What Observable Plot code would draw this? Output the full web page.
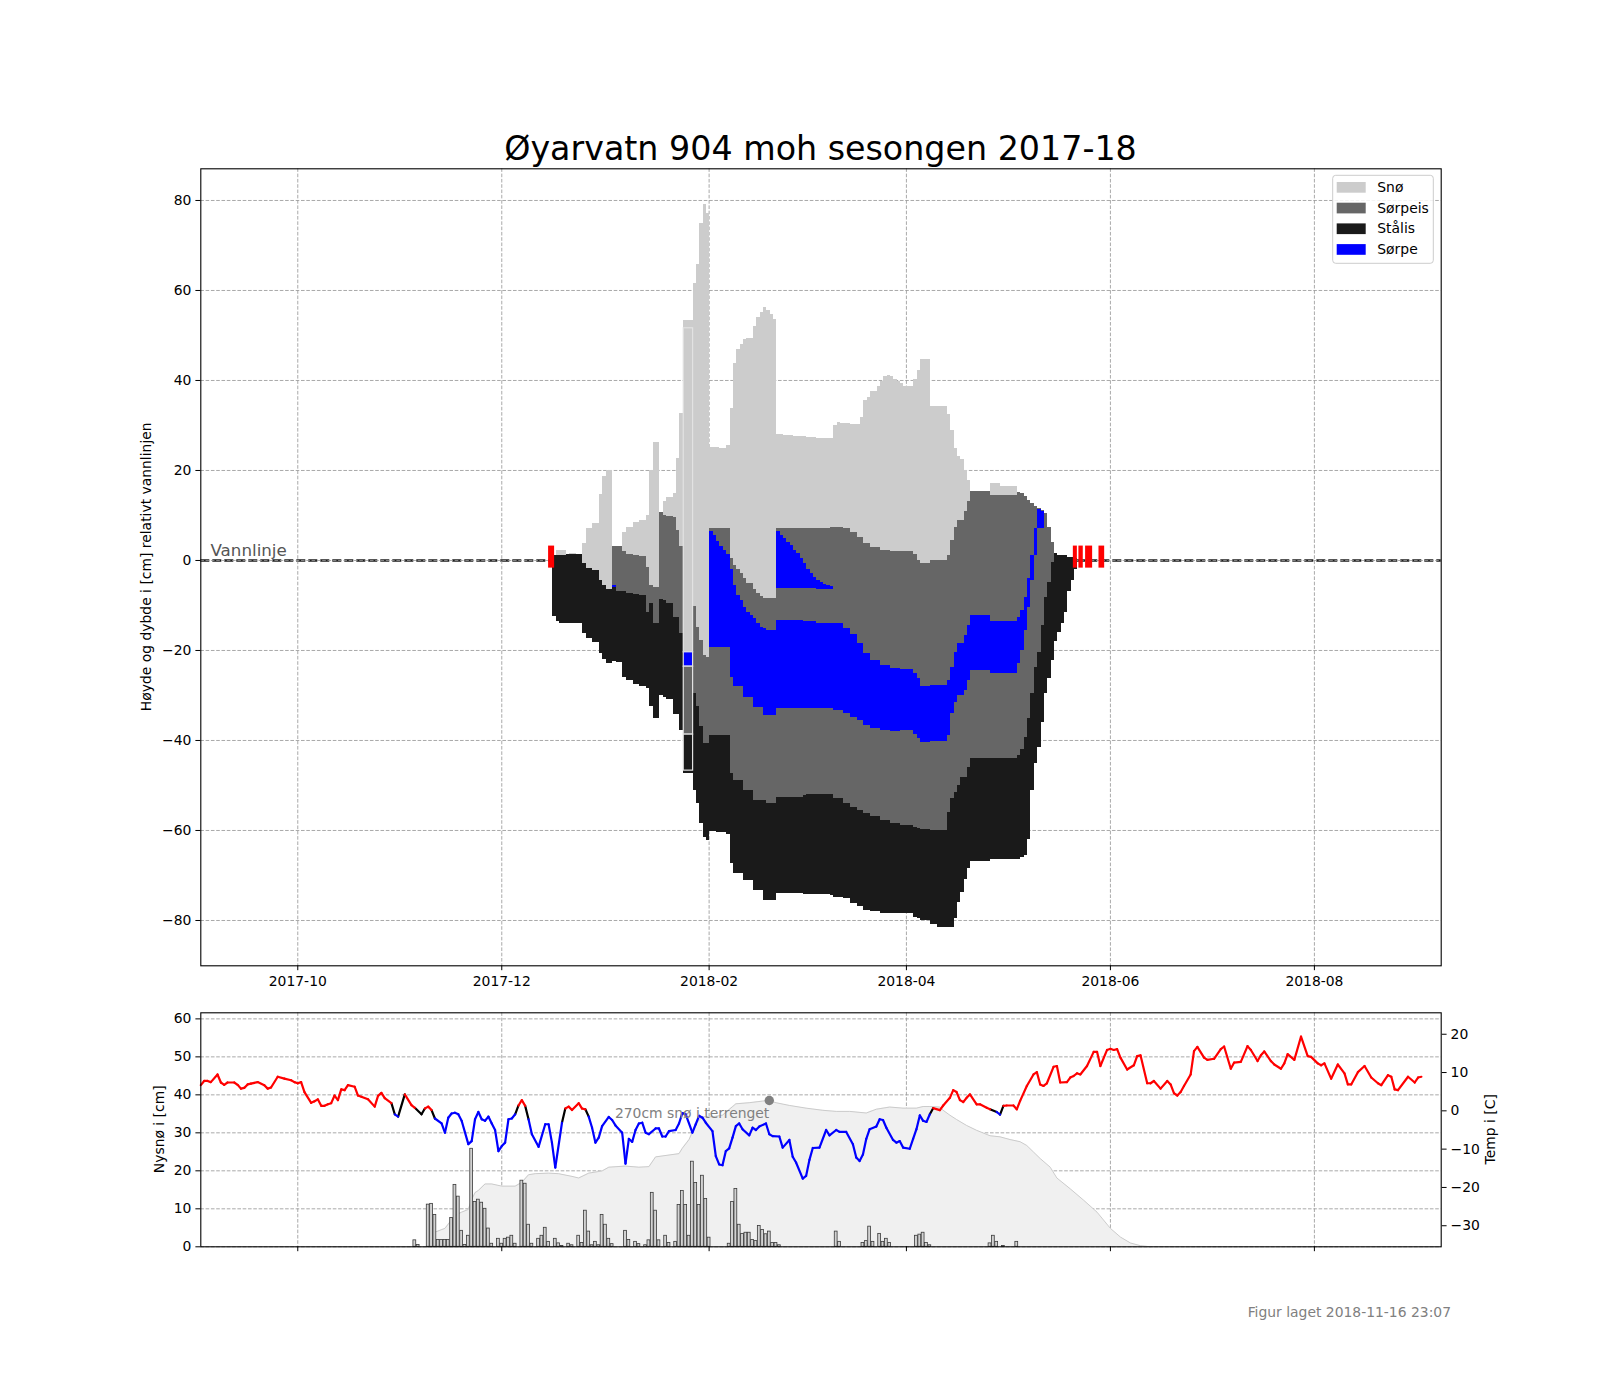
<!DOCTYPE html>
<html><head><meta charset="utf-8">
<script src="https://cdn.jsdelivr.net/npm/d3@7"></script>
<script src="https://cdn.jsdelivr.net/npm/@observablehq/plot@0.6"></script>
<style>
body{margin:0;background:#fff;}
#fig{position:relative;width:1600px;height:1400px;background:#fff;font-family:"DejaVu Sans",sans-serif;}
#fig svg{position:absolute;left:0;}
</style></head><body><div id="fig"></div>
<script>
const n = null;
// ---------- texts ----------
const titleText = "Øyarvatn 904 moh sesongen 2017-18";
const yLabelMain = "Høyde og dybde i [cm] relativt vannlinjen";
const yLabelSnow = "Nysnø i [cm]";
const yLabelTemp = "Temp i [C]";
const footerText = "Figur laget 2018-11-16 23:07";
const waterText = "Vannlinje";
// ---------- ticks ----------
const xTicks = ["2017-10-01","2017-12-01","2018-02-01","2018-04-01","2018-06-01","2018-08-01"];
const yTicksMain = [-80,-60,-40,-20,0,20,40,60,80];
const yTicksSnow = [0,10,20,30,40,50,60];
const yTicksTemp = [-30,-20,-10,0,10,20];
// ---------- legend ----------
const layerNames = ["Snø","Sørpeis","Stålis","Sørpe"];
const layerColors = ["#cccccc","#666666","#1a1a1a","#0000ff"];

// ---------- snow on ice (top of snow, step series; null = no snow) ----------
const snowDates = ["2017-12-16","2017-12-17","2017-12-20","2017-12-21","2017-12-23","2017-12-25","2017-12-26","2017-12-28","2017-12-30","2017-12-31",
"2018-01-01","2018-01-03","2018-01-06","2018-01-07","2018-01-09","2018-01-11","2018-01-13","2018-01-14","2018-01-15","2018-01-17",
"2018-01-18","2018-01-19","2018-01-21","2018-01-22","2018-01-23","2018-01-24","2018-01-27","2018-01-28","2018-01-29","2018-01-30",
"2018-01-31","2018-02-01","2018-02-04","2018-02-06","2018-02-07","2018-02-08","2018-02-09","2018-02-10","2018-02-11","2018-02-12",
"2018-02-14","2018-02-15","2018-02-16","2018-02-17","2018-02-18","2018-02-19","2018-02-20","2018-02-21","2018-02-23","2018-02-26",
"2018-03-02","2018-03-05","2018-03-10","2018-03-11","2018-03-12","2018-03-15","2018-03-18","2018-03-19","2018-03-20","2018-03-21",
"2018-03-23","2018-03-24","2018-03-25","2018-03-26","2018-03-27","2018-03-28","2018-03-29","2018-03-30","2018-03-31","2018-04-01",
"2018-04-03","2018-04-04","2018-04-05","2018-04-06","2018-04-08","2018-04-13","2018-04-14","2018-04-15","2018-04-16","2018-04-17",
"2018-04-18","2018-04-19","2018-04-20","2018-04-26","2018-04-29","2018-05-04"];
const snowTop = [n,2.2,n,1.5,n,3.7,7.0,8.3,14.7,18.7,
20.0,n,6.3,7.4,8.5,8.8,10.0,20.0,26.2,n,
13.0,13.9,14.8,22.7,32.7,53.3,61.5,65.8,74.8,79.1,
77.0,25.2,24.8,25.5,33.7,43.8,46.9,48.1,49.1,49.3,
52.1,53.9,55.2,56.3,55.6,54.7,53.5,28.0,27.8,27.6,
27.3,27.2,30.0,30.7,30.5,30.2,31.7,35.6,36.3,37.5,
38.6,39.7,40.8,41.0,40.8,40.3,39.8,39.3,38.7,38.6,
40.2,42.2,44.7,44.6,34.3,32.5,28.8,24.9,23.1,22.4,
20.0,17.8,n,17.0,16.4,n];

// ---------- ice layers (step series; boundaries from top down; null = layer absent) ----------
const iceDates = ["2017-12-16","2017-12-17","2017-12-18","2017-12-20","2017-12-21","2017-12-23","2017-12-25","2017-12-26","2017-12-28","2017-12-30","2017-12-31",
"2018-01-01","2018-01-03","2018-01-04","2018-01-06","2018-01-07","2018-01-09","2018-01-11","2018-01-13","2018-01-14","2018-01-15",
"2018-01-17","2018-01-18","2018-01-19","2018-01-21","2018-01-22","2018-01-23","2018-01-24","2018-01-27","2018-01-28","2018-01-29",
"2018-01-30","2018-01-31","2018-02-01","2018-02-02","2018-02-03","2018-02-04","2018-02-05","2018-02-06","2018-02-07","2018-02-08",
"2018-02-09","2018-02-10","2018-02-11","2018-02-12","2018-02-13","2018-02-14","2018-02-15","2018-02-16","2018-02-17","2018-02-18",
"2018-02-21","2018-02-22","2018-02-23","2018-02-24","2018-02-25","2018-02-26","2018-02-27","2018-02-28","2018-03-01","2018-03-02",
"2018-03-03","2018-03-04","2018-03-05","2018-03-06","2018-03-07","2018-03-08","2018-03-09","2018-03-10","2018-03-13","2018-03-15",
"2018-03-17","2018-03-19","2018-03-21","2018-03-24","2018-03-27","2018-03-30","2018-04-03","2018-04-04","2018-04-05","2018-04-08",
"2018-04-10","2018-04-13","2018-04-14","2018-04-15","2018-04-16","2018-04-17","2018-04-18","2018-04-19","2018-04-20","2018-04-26",
"2018-05-04","2018-05-05","2018-05-06","2018-05-07","2018-05-08","2018-05-09","2018-05-10","2018-05-11","2018-05-12","2018-05-13",
"2018-05-14","2018-05-15","2018-05-16","2018-05-17","2018-05-18","2018-05-19","2018-05-20","2018-05-21","2018-05-22"];
const iceTop = [1.1,1.0,1.0,1.3,1.3,1.3,-0.6,-1.7,-2.2,-4.4,-5.6,
-6.5,3.0,3.0,1.9,1.3,1.1,0.9,-1.5,-5.5,-6.0,
10.6,10.0,9.8,9.6,6.7,3.1,-20.4,-10.2,-14.8,-17.8,
-21.1,-21.5,7.0,7.0,7.0,7.0,7.0,7.0,0.4,-1.1,
-1.9,-3.0,-4.1,-5.2,-5.2,-6.5,-7.4,-8.1,-8.5,-8.5,
7.0,7.0,7.0,7.0,7.0,7.1,7.1,7.1,7.2,7.2,
7.2,7.2,7.2,7.2,7.2,7.2,7.3,7.4,7.2,6.2,
5.0,3.7,2.8,2.2,2.0,2.0,1.3,0.0,-0.7,-0.1,
-0.1,1.1,4.4,7.4,8.9,8.9,10.9,13.0,15.3,14.4,
15.2,14.8,14.3,13.3,12.6,12.1,11.5,11.1,10.4,7.4,
4.1,1.6,1.2,1.0,1.0,0.7,0.7,0.5,n];
// bottom of upper sørpeis
const greyA = [n,n,n,n,n,n,n,n,n,n,n,
n,-5.6,n,n,n,n,n,n,n,n,
n,n,n,n,n,n,n,n,n,n,
n,n,6.5,5.6,4.3,3.2,2.2,1.3,-1.9,-5.6,
-7.8,-9.0,-10.4,-11.5,-12.2,-13.0,-14.0,-14.8,-15.2,-15.6,
6.5,5.6,4.8,4.1,3.3,2.2,1.5,0.4,-0.7,-1.9,
-3.0,-3.7,-4.4,-4.8,-5.3,-5.6,-5.8,n,n,n,
n,n,n,n,n,n,n,n,n,n,
n,n,n,n,n,n,n,n,n,n,
n,n,n,n,n,n,n,n,n,n,
n,n,n,n,n,n,n,n,n];
// bottom of upper sørpe
const slushA = [n,n,n,n,n,n,n,n,n,n,n,
n,-6.1,n,n,n,n,n,n,n,n,
n,n,n,n,n,n,-23.6,n,n,n,
n,n,-19.3,-19.3,-19.3,-19.3,-19.3,-19.3,-25.9,-28.1,
-28.1,-28.1,-30.4,-30.4,-30.4,-32.6,-32.6,-32.6,-34.4,-34.4,
-6.3,-6.3,-6.3,-6.3,-6.3,-6.3,-6.3,-6.3,-6.3,-6.3,
-6.3,-6.3,-6.4,-6.4,-6.4,-6.4,-6.4,n,n,n,
n,n,n,n,n,n,n,n,n,n,
n,n,n,n,n,n,n,n,n,n,
n,n,n,n,n,n,n,n,n,n,
n,n,n,n,n,n,n,n,n];
// bottom of middle sørpeis
const greyB = [n,n,n,n,n,n,n,n,n,n,n,
n,n,n,n,n,n,n,n,n,n,
n,n,n,n,n,n,-38.7,n,n,n,
n,n,-38.9,-38.9,-38.9,-39.0,-39.0,-39.0,-47.4,-48.9,
-48.9,-48.9,-51.1,-51.1,-51.1,-53.3,-53.3,-53.3,-53.3,-54.1,
-13.3,-13.3,-13.3,-13.3,-13.3,-13.3,-13.3,-13.3,-13.6,-13.6,
-13.6,-13.6,-13.9,-13.9,-13.9,-13.9,-14.1,-14.1,-15.2,-16.5,
-18.5,-20.7,-22.2,-23.4,-24.0,-24.3,-25.2,-26.3,-28.0,-27.8,
-27.8,-26.7,-23.7,-20.4,-18.5,-18.5,-16.7,-14.5,-12.2,-13.5,
-12.6,-11.1,-8.2,-4.1,1.1,7.0,11.3,10.9,n,n,
n,n,n,n,n,n,n,n,n];
// bottom of main sørpe band
const slushB = [n,n,n,n,n,n,n,n,n,n,n,
n,n,n,n,n,n,n,n,n,n,
n,n,n,n,n,n,n,n,n,n,
n,n,n,n,n,n,n,n,n,n,
n,n,n,n,n,n,n,n,n,n,
-32.9,-32.9,-32.9,-32.9,-32.9,-32.9,-32.9,-32.9,-32.9,-32.9,
-32.9,-32.9,-33.0,-33.0,-33.0,-33.0,-33.0,-33.3,-34.1,-34.8,
-35.6,-36.7,-37.4,-37.8,-38.0,-37.8,-38.7,-39.6,-40.4,-40.2,
-40.2,-38.9,-34.1,-31.5,-30.0,-30.0,-28.9,-26.7,-24.5,-25.2,
-23.0,-20.0,-15.6,-10.4,-4.5,1.1,7.0,7.0,n,n,
n,n,n,n,n,n,n,n,n];
// top of stålis (bottom of lower sørpeis)
const greyC = [n,n,n,n,n,n,n,n,n,n,n,
n,n,-7.0,-7.0,-7.4,-7.6,-7.8,-11.5,-9.6,-14.1,
-8.7,-9.0,-9.5,-12.6,-12.6,-16.2,n,-29.5,-32.4,-37.0,
-40.6,-40.7,n,n,n,n,n,n,n,n,
n,n,n,n,n,n,n,n,n,n,
-52.6,-52.6,-52.6,-52.6,-52.6,-52.6,-52.6,-52.6,-52.3,-52.0,
-52.0,-52.0,-52.0,-52.0,-52.0,-52.0,-52.0,-53.0,-54.1,-54.8,
-55.6,-56.3,-57.0,-57.8,-58.5,-58.9,-59.3,-59.6,-59.8,-60.0,
-60.0,-56.0,-53.0,-51.5,-50.0,-48.2,-48.2,-45.9,-44.1,-44.1,
-43.3,-41.9,-39.4,-35.2,-29.6,-23.7,-20.4,-14.4,-8.2,-4.8,
-0.4,n,n,n,n,n,n,n,n];
// bottom of ice
const iceBottom = [-12.4,-13.5,-14.1,-13.9,-14.0,-14.1,-16.2,-17.4,-18.2,-20.6,-22.1,
-23.0,-22.4,-22.6,-25.9,-26.7,-27.6,-28.1,-28.5,-32.4,-35.2,
-30.0,-30.4,-31.0,-34.2,-34.2,-37.8,-47.3,-51.1,-54.1,-58.5,
-61.5,-62.2,-60.3,-60.3,-60.5,-60.5,-60.5,-60.8,-67.4,-69.6,
-69.6,-69.6,-71.1,-71.1,-71.1,-73.3,-73.3,-73.3,-75.6,-75.6,
-74.1,-74.1,-74.1,-74.1,-74.1,-74.1,-74.1,-74.1,-74.3,-74.3,
-74.3,-74.3,-74.3,-74.3,-74.3,-74.3,-74.5,-74.8,-75.2,-76.3,
-77.0,-77.8,-78.1,-78.5,-78.5,-78.5,-79.3,-79.6,-80.0,-81.0,
-81.5,-81.5,-81.5,-79.6,-76.0,-73.8,-71.0,-68.5,-67.0,-66.5,
-66.5,-66.0,-65.5,-62.0,-51.1,-45.2,-41.5,-35.9,-29.6,-26.3,
-22.2,-18.1,-15.9,-14.1,-11.5,-7.0,-4.4,-1.9,n];
const iceLayerTypes = ["Sørpeis","Sørpe","Sørpeis","Sørpe","Sørpeis","Stålis"];

// ---------- single measured profile (drawn with outline) ----------
const profileStart = "2018-01-24T10:00:00Z";
const profileEnd = "2018-01-27T05:00:00Z";
const profileBounds = [51.6,-20.4,-23.6,-38.7,-46.7];
const profileTypes = ["Snø","Sørpe","Sørpeis","Stålis"];

// ---------- red markers (no ice) ----------
const redDates = ["2017-12-15T00:00:00Z","2018-05-20T22:00:00Z","2018-05-22T14:00:00Z","2018-05-24T14:00:00Z","2018-05-28T14:00:00Z"];
const redDays = [1.8,1.2,1.3,2.1,1.7];
const redSpan = [-1.7,3.2];

// ---------- new snow (cm) ----------
const newSnowDates = ["2017-11-05","2017-11-06","2017-11-09","2017-11-10","2017-11-11","2017-11-12","2017-11-13","2017-11-14","2017-11-15","2017-11-16",
"2017-11-17","2017-11-18","2017-11-19","2017-11-20","2017-11-21","2017-11-22","2017-11-23","2017-11-24","2017-11-25","2017-11-26",
"2017-11-27","2017-11-28","2017-11-30","2017-12-01","2017-12-02","2017-12-03","2017-12-04","2017-12-05","2017-12-07","2017-12-08",
"2017-12-09","2017-12-10","2017-12-12","2017-12-13","2017-12-14","2017-12-15","2017-12-17","2017-12-18","2017-12-19","2017-12-21",
"2017-12-22","2017-12-24","2017-12-25","2017-12-26","2017-12-27","2017-12-28","2017-12-29","2017-12-30","2017-12-31","2018-01-01",
"2018-01-02","2018-01-03","2018-01-07","2018-01-08","2018-01-10","2018-01-11","2018-01-13","2018-01-14","2018-01-15","2018-01-16",
"2018-01-17","2018-01-19","2018-01-20","2018-01-22","2018-01-23","2018-01-24","2018-01-25","2018-01-26","2018-01-27","2018-01-28",
"2018-01-29","2018-01-30","2018-01-31","2018-02-01","2018-02-07","2018-02-08","2018-02-09","2018-02-10","2018-02-11","2018-02-12",
"2018-02-13","2018-02-14","2018-02-15","2018-02-16","2018-02-17","2018-02-18","2018-02-19","2018-02-20","2018-02-21","2018-02-22",
"2018-03-11","2018-03-12","2018-03-19","2018-03-20","2018-03-21","2018-03-22","2018-03-24","2018-03-25","2018-03-26","2018-03-27",
"2018-04-04","2018-04-05","2018-04-06","2018-04-07","2018-04-08","2018-04-26","2018-04-27","2018-04-28","2018-04-30","2018-05-04"];
const newSnowCm = [1.7,0.5,11.1,11.3,8.4,1.8,1.8,1.8,1.8,7.6,
16.3,13.2,4.2,0.5,2.9,25.8,11.8,12.4,11.6,10.0,
4.8,0.8,2.1,0.8,2.1,2.4,2.9,0.8,17.4,16.6,
5.8,0.8,2.1,2.9,5.0,1.3,2.1,0.9,0.2,0.8,
0.4,2.9,1.0,9.5,4.0,0.4,1.3,0.4,8.4,5.8,
2.1,0.7,4.2,1.8,1.3,0.7,0.4,1.7,14.2,9.5,
1.7,2.9,1.0,1.3,11.0,14.7,11.0,2.9,22.4,16.8,
11.0,18.7,12.6,2.4,0.8,11.8,15.2,5.8,3.4,3.7,
3.7,1.8,1.5,5.5,4.4,3.3,4.0,1.0,1.0,0.4,
4.0,1.3,1.0,1.5,5.3,1.3,3.4,1.3,2.1,1.0,
2.9,3.2,3.7,1.0,0.4,0.9,2.9,1.3,0.2,1.3];

// ---------- snow depth in terrain (cm) ----------
const terrainDates = ["2017-11-10","2017-11-11","2017-11-14","2017-11-17","2017-11-19","2017-11-21","2017-11-22","2017-11-23","2017-11-24","2017-11-26",
"2017-11-28","2017-12-01","2017-12-05","2017-12-07","2017-12-09","2017-12-11","2017-12-15","2017-12-18","2017-12-22","2017-12-24",
"2017-12-27","2017-12-31","2018-01-02","2018-01-07","2018-01-11","2018-01-14","2018-01-16","2018-01-23","2018-01-24","2018-01-26",
"2018-01-27","2018-01-28","2018-01-30","2018-02-02","2018-02-05","2018-02-09","2018-02-13","2018-02-17","2018-02-19","2018-02-21",
"2018-02-25","2018-03-02","2018-03-07","2018-03-11","2018-03-15","2018-03-20","2018-03-23","2018-03-27","2018-03-31","2018-04-04",
"2018-04-06","2018-04-08","2018-04-11","2018-04-12","2018-04-14","2018-04-16","2018-04-19","2018-04-22","2018-04-26","2018-04-29",
"2018-05-02","2018-05-05","2018-05-07","2018-05-09","2018-05-11","2018-05-14","2018-05-16","2018-05-20","2018-05-24","2018-05-28",
"2018-06-01","2018-06-04","2018-06-07","2018-06-10","2018-06-13"];
const terrainCm = [0,27,34,58,64,69,87,100,104,116,
116,112,112,119,133,135,136,135,130,127,
136,140,147,149,147,148,166,172,182,198,
212,227,240,240,243,264,266,269,270,266,
261,256,252,250,250,247,254,258,256,256,
259,259,258,252,243,235,224,215,205,203,
198,194,187,175,163,147,127,107,86,64,
34,18,7,2,0];
const terrainScale = 38.5 / 270; // plotted on the new-snow axis

// ---------- air temperature (°C) ----------
const tempDates = [
"2017-09-02","2017-09-03","2017-09-04","2017-09-05","2017-09-07","2017-09-08","2017-09-09","2017-09-10","2017-09-12","2017-09-13","2017-09-14","2017-09-15","2017-09-16","2017-09-17","2017-09-19","2017-09-21","2017-09-22","2017-09-23","2017-09-25","2017-09-27","2017-09-29","2017-09-30",
"2017-10-01","2017-10-02","2017-10-03","2017-10-05","2017-10-06","2017-10-07","2017-10-08","2017-10-09","2017-10-10","2017-10-11","2017-10-12","2017-10-13","2017-10-14","2017-10-15","2017-10-16","2017-10-18","2017-10-19","2017-10-20","2017-10-22","2017-10-24","2017-10-25","2017-10-26","2017-10-27","2017-10-29","2017-10-30","2017-10-31",
"2017-11-02","2017-11-04","2017-11-05","2017-11-07","2017-11-08","2017-11-09","2017-11-10","2017-11-11","2017-11-13","2017-11-14","2017-11-15","2017-11-16","2017-11-17","2017-11-18","2017-11-19","2017-11-21","2017-11-22","2017-11-23","2017-11-24","2017-11-25","2017-11-26","2017-11-27","2017-11-28","2017-11-29","2017-11-30",
"2017-12-01","2017-12-02","2017-12-03","2017-12-04","2017-12-05","2017-12-06","2017-12-07","2017-12-08","2017-12-09","2017-12-10","2017-12-12","2017-12-14","2017-12-15","2017-12-16","2017-12-17","2017-12-19","2017-12-20","2017-12-21","2017-12-22","2017-12-24","2017-12-25","2017-12-26","2017-12-27","2017-12-28","2017-12-29","2017-12-30","2017-12-31",
"2018-01-02","2018-01-03","2018-01-04","2018-01-06","2018-01-07","2018-01-08","2018-01-09","2018-01-10","2018-01-11","2018-01-12","2018-01-13","2018-01-14","2018-01-16","2018-01-17","2018-01-18","2018-01-19","2018-01-20","2018-01-22","2018-01-23","2018-01-24","2018-01-25","2018-01-27","2018-01-28","2018-01-29","2018-01-30","2018-01-31",
"2018-02-02","2018-02-03","2018-02-04","2018-02-05","2018-02-06","2018-02-07","2018-02-08","2018-02-09","2018-02-10","2018-02-11","2018-02-13","2018-02-14","2018-02-15","2018-02-16","2018-02-18","2018-02-19","2018-02-20","2018-02-22","2018-02-23","2018-02-25","2018-02-26","2018-02-27",
"2018-03-01","2018-03-02","2018-03-03","2018-03-04","2018-03-06","2018-03-08","2018-03-09","2018-03-11","2018-03-12","2018-03-14","2018-03-16","2018-03-17","2018-03-18","2018-03-19","2018-03-20","2018-03-21","2018-03-23","2018-03-24","2018-03-25","2018-03-26","2018-03-28","2018-03-29","2018-03-30","2018-03-31",
"2018-04-02","2018-04-03","2018-04-04","2018-04-05","2018-04-06","2018-04-07","2018-04-08","2018-04-09","2018-04-11","2018-04-12","2018-04-14","2018-04-15","2018-04-16","2018-04-17","2018-04-18","2018-04-19","2018-04-20","2018-04-22","2018-04-23","2018-04-25","2018-04-26","2018-04-28","2018-04-29","2018-04-30",
"2018-05-01","2018-05-03","2018-05-04","2018-05-05","2018-05-07","2018-05-09","2018-05-10","2018-05-11","2018-05-12","2018-05-13","2018-05-15","2018-05-16","2018-05-17","2018-05-19","2018-05-20","2018-05-21","2018-05-22","2018-05-23","2018-05-25","2018-05-27","2018-05-28","2018-05-29","2018-05-31",
"2018-06-01","2018-06-02","2018-06-03","2018-06-04","2018-06-06","2018-06-08","2018-06-09","2018-06-10","2018-06-12","2018-06-13","2018-06-14","2018-06-16","2018-06-18","2018-06-19","2018-06-20","2018-06-21","2018-06-22","2018-06-23","2018-06-25","2018-06-26","2018-06-27","2018-06-29","2018-06-30",
"2018-07-02","2018-07-04","2018-07-05","2018-07-07","2018-07-08","2018-07-10","2018-07-12","2018-07-13","2018-07-15","2018-07-16","2018-07-17","2018-07-19","2018-07-20","2018-07-22","2018-07-23","2018-07-24","2018-07-26","2018-07-28","2018-07-30","2018-07-31",
"2018-08-02","2018-08-03","2018-08-04","2018-08-06","2018-08-08","2018-08-10","2018-08-11","2018-08-12","2018-08-14","2018-08-16","2018-08-18","2018-08-20","2018-08-21","2018-08-23","2018-08-24","2018-08-25","2018-08-26","2018-08-29","2018-08-31",
"2018-09-01","2018-09-02"];
const tempValues = [
6.7,7.8,7.8,7.5,9.5,7.4,6.8,7.4,7.4,6.8,5.8,6.0,6.9,7.1,7.5,6.7,5.8,6.1,8.9,8.4,8.0,7.5,
7.2,7.5,4.9,2.1,2.5,3.0,1.3,1.3,1.7,2.0,4.0,2.8,5.6,5.4,6.7,6.3,4.0,3.7,3.0,1.1,3.9,4.7,3.3,2.0,-0.9,-1.5,
4.3,1.5,0.8,-0.9,0.6,1.1,0.2,-2.0,-3.3,-5.7,-1.8,-0.7,-0.5,-0.9,-2.6,-8.7,-7.9,-2.2,-0.3,-2.2,-2.6,-1.5,-3.3,-5.0,-10.5,
-9.2,-8.3,-2.2,-2.0,-0.9,1.4,2.8,1.3,-2.2,-6.1,-9.4,-3.5,-3.5,-8.3,-14.8,-3.1,0.6,1.1,0.2,2.0,0.6,0.4,-1.5,-4.4,-8.3,-7.0,-4.0,
-1.6,-2.4,-3.8,-5.7,-13.8,-7.3,-8.1,-5.0,-3.3,-3.1,-5.7,-6.1,-4.6,-4.6,-6.7,-6.7,-5.3,-5.0,-3.3,-0.6,-0.9,-5.7,-3.5,-1.3,-1.8,-3.1,
-5.3,-11.8,-14.0,-14.2,-10.5,-9.8,-7.0,-4.0,-3.3,-4.8,-6.4,-4.4,-5.0,-4.1,-3.3,-6.1,-6.6,-6.7,-9.6,-7.6,-12.0,-13.5,
-17.7,-17.0,-12.8,-9.7,-9.6,-5.0,-6.4,-5.0,-5.5,-5.5,-8.7,-12.2,-13.1,-11.4,-7.3,-4.8,-4.1,-2.2,-2.4,-4.4,-7.6,-8.3,-7.9,-9.6,
-9.9,-7.3,-4.8,-1.2,-2.6,-2.9,-0.9,0.7,0.2,1.4,3.4,5.4,4.9,2.8,2.3,3.4,4.3,1.7,1.7,0.8,0.4,-0.3,-1.0,1.3,
1.4,1.4,0.4,2.6,6.5,9.5,10.1,6.9,6.5,7.2,11.5,11.7,7.4,7.5,8.7,9.1,9.8,9.5,11.7,15.4,15.4,11.7,15.9,
16.2,15.9,16.1,13.9,10.8,11.9,14.3,14.5,7.2,7.2,7.8,5.8,7.8,6.9,4.6,4.0,4.9,6.5,9.5,15.6,16.7,13.9,13.3,
13.6,16.1,16.8,11.0,12.6,12.8,16.9,15.9,13.0,14.5,15.5,13.0,12.1,11.0,12.4,14.8,13.3,19.4,14.3,14.1,
12.4,11.9,12.4,8.4,12.1,9.8,6.9,6.9,10.1,11.7,8.7,7.2,6.7,9.3,8.9,5.6,5.4,8.9,7.4,
8.7,8.9];

// ================= build =================
const DAY = 864e5;
const parse = s => new Date(s.length === 10 ? s + "T00:00:00Z" : s);
const colorOf = Object.fromEntries(layerNames.map((k, i) => [k, layerColors[i]]));
const fmtNum = v => v < 0 ? "\u2212" + Math.abs(v) : String(v);
const xTickDates = xTicks.map(parse);
const xDomain = [parse("2017-09-02"), parse("2018-09-07T22:00:00Z")];

const iceT = iceDates.map(d => +parse(d));
const snowT = snowDates.map(d => +parse(d));
const stepIdx = (arr, t) => d3.bisectRight(arr, t) - 1;
const bounds = [greyA, slushA, greyB, slushB, greyC, iceBottom];
const segs = [];
for (let t = iceT[0]; t < iceT[iceT.length - 1]; t += DAY) {
  const i = stepIdx(iceT, t);
  const top = iceTop[i];
  if (top == null) continue;
  const x1 = new Date(t + 0.25 * DAY), x2 = new Date(t + 1.25 * DAY);
  const j = stepIdx(snowT, t);
  const s = j >= 0 ? snowTop[j] : null;
  if (s != null && s > top) segs.push({x1, x2, y1: top, y2: s, type: "Snø"});
  let cur = top;
  bounds.forEach((arr, k) => {
    const v = arr[i] == null ? cur : arr[i];
    if (v < cur) segs.push({x1, x2, y1: v, y2: cur, type: iceLayerTypes[k]});
    cur = v;
  });
}
const profileSegs = profileTypes.map((type, k) => ({
  x1: parse(profileStart), x2: parse(profileEnd), y1: profileBounds[k + 1], y2: profileBounds[k], type
}));
const redBars = redDates.map((d, i) => ({x1: parse(d), x2: new Date(+parse(d) + redDays[i] * DAY)}));

const gridOpts = {stroke: "#9a9a9a", strokeOpacity: 1, strokeWidth: 0.85, strokeDasharray: "3.6,1.7"};
const styleOpts = {background: "transparent", fontFamily: "DejaVu Sans", fontSize: "13.9px", overflow: "visible", color: "black"};

const mainPlot = Plot.plot({
  width: 1600, height: 1000,
  marginLeft: 200.3, marginRight: 159.3, marginTop: 168.3, marginBottom: 34.7,
  style: styleOpts,
  x: {type: "utc", domain: xDomain, label: null},
  y: {domain: [-90.07, 87.04], label: null},
  marks: [
    Plot.ruleY([0], {stroke: "#1e1e1e", strokeWidth: 2.6, strokeDasharray: "9,3"}),
    Plot.gridX(xTickDates, gridOpts),
    Plot.gridY(yTicksMain, gridOpts),
    ...layerNames.map(name => Plot.rect(segs.filter(s => s.type === name),
      {x1: "x1", x2: "x2", y1: "y1", y2: "y2", fill: colorOf[name], shapeRendering: "crispEdges"})),
    ...profileSegs.map(s => Plot.rect([s], {x1: "x1", x2: "x2", y1: "y1", y2: "y2",
      fill: colorOf[s.type], stroke: "#e2e2e2", strokeWidth: 1.2})),
    Plot.rect(redBars, {x1: "x1", x2: "x2", y1: () => redSpan[0], y2: () => redSpan[1], fill: "#ff0000"}),
    Plot.text([waterText], {text: d => d, frameAnchor: "left", y: () => 0, dx: 9.7, dy: -4.5,
      textAnchor: "start", lineAnchor: "bottom", fill: "#555555", fontSize: 16.7}),
    Plot.axisX(xTickDates, {tickFormat: d3.utcFormat("%Y-%m"), tickSize: 4.9, tickPadding: 5.5, label: null}),
    Plot.axisY(yTicksMain, {tickFormat: fmtNum, tickSize: 4.9, tickPadding: 4.5, label: null}),
    Plot.frame({stroke: "black", strokeWidth: 1.1})
  ]
});

// bottom panel: left axis new snow [0, 61.6], right axis temp [-35.5, 25.6]
const L = [0, 61.6], T = [-35.5, 25.6];
const toLeft = t => (t - T[0]) / (T[1] - T[0]) * (L[1] - L[0]) + L[0];
const fromLeft = v => (v - L[0]) / (L[1] - L[0]) * (T[1] - T[0]) + T[0];
const tempD = tempDates.map(parse);
const tempSegs = [];
for (let i = 0; i < tempD.length - 1; i++) {
  const a = tempValues[i], b = tempValues[i + 1];
  const c = (a >= 0 && b >= 0) ? "#ff0000" : (a < 0 && b < 0) ? "#0000ff" : "#000000";
  tempSegs.push({x1: tempD[i], x2: tempD[i + 1], y1: toLeft(a), y2: toLeft(b), c});
}
const terrainD = terrainDates.map(parse);
const terrainIdx = d3.range(terrainD.length);
const maxI = d3.maxIndex(terrainCm);
const newD = newSnowDates.map(parse);
const newIdx = d3.range(newD.length);

const bottomPlot = Plot.plot({
  width: 1600, height: 280,
  marginLeft: 200.3, marginRight: 159.3, marginTop: 12.3, marginBottom: 33.7,
  style: styleOpts,
  x: {type: "utc", domain: xDomain, label: null},
  y: {domain: L, label: null},
  marks: [
    Plot.gridX(xTickDates, gridOpts),
    Plot.gridY(yTicksSnow, gridOpts),
    Plot.areaY(terrainIdx, {x: i => terrainD[i], y: i => terrainCm[i] * terrainScale, fill: "#f0f0f0"}),
    Plot.lineY(terrainIdx, {x: i => terrainD[i], y: i => terrainCm[i] * terrainScale, stroke: "#c6c6c6", strokeWidth: 0.9}),
    Plot.rect(newIdx, {x1: i => new Date(+newD[i] - 0.42 * DAY), x2: i => new Date(+newD[i] + 0.42 * DAY),
      y1: () => 0, y2: i => newSnowCm[i], fill: "#d2d2d2", stroke: "#3a3a3a", strokeWidth: 0.8}),
    ...["#000000", "#0000ff", "#ff0000"].map(c => Plot.link(tempSegs.filter(s => s.c === c),
      {x1: "x1", y1: "y1", x2: "x2", y2: "y2", stroke: c, strokeWidth: 2.2, strokeLinecap: "round"})),
    Plot.dot([maxI], {x: i => terrainD[i], y: i => terrainCm[i] * terrainScale, r: 4.7, fill: "#808080"}),
    Plot.text([maxI], {x: i => terrainD[i], y: i => terrainCm[i] * terrainScale,
      text: i => `${terrainCm[i]}cm snø i terrenget`, textAnchor: "end", lineAnchor: "bottom", dy: 17.5,
      fill: "#808080", fontSize: 13.9}),
    Plot.axisX(xTickDates, {tickFormat: () => "", tickSize: 4.9, label: null}),
    Plot.axisY(yTicksSnow, {tickFormat: fmtNum, tickSize: 4.9, tickPadding: 4.5, label: null}),
    Plot.axisY(yTicksTemp.map(toLeft), {anchor: "right", tickFormat: v => fmtNum(Math.round(fromLeft(v))),
      tickSize: 4.9, tickPadding: 4.5, label: null}),
    Plot.frame({stroke: "black", strokeWidth: 1.1})
  ]
});

const fig = document.getElementById("fig");
mainPlot.style.top = "0px";
bottomPlot.style.top = "1000px";
fig.appendChild(mainPlot);
fig.appendChild(bottomPlot);

// overlay texts and legend
const ov = d3.select(fig).append("svg").attr("width", 1600).attr("height", 1400)
  .style("top", "0px").style("pointer-events", "none")
  .attr("font-family", "DejaVu Sans");
ov.append("text").attr("x", 820.5).attr("y", 160).attr("text-anchor", "middle")
  .attr("font-size", 33.3).attr("fill", "black").text(titleText);
ov.append("text").attr("transform", "translate(151,566.8) rotate(-90)").attr("text-anchor", "middle")
  .attr("font-size", 13.9).text(yLabelMain);
ov.append("text").attr("transform", "translate(164,1129.3) rotate(-90)").attr("text-anchor", "middle")
  .attr("font-size", 13.9).text(yLabelSnow);
ov.append("text").attr("transform", "translate(1495,1129.3) rotate(-90)").attr("text-anchor", "middle")
  .attr("font-size", 13.9).text(yLabelTemp);
ov.append("text").attr("x", 1451).attr("y", 1317).attr("text-anchor", "end")
  .attr("font-size", 13.9).attr("fill", "#808080").text(footerText);
const lg = ov.append("g").attr("transform", "translate(1332.7,175.3)");
lg.append("rect").attr("width", 100.6).attr("height", 88).attr("rx", 3)
  .attr("fill", "white").attr("fill-opacity", 0.85).attr("stroke", "#cccccc");
layerNames.forEach((name, i) => {
  const cy = 12 + i * 20.7;
  lg.append("rect").attr("x", 4).attr("y", cy - 5.3).attr("width", 29).attr("height", 10.7).attr("fill", layerColors[i]);
  lg.append("text").attr("x", 44.6).attr("y", cy + 4.8).attr("font-size", 13.9).text(name);
});
</script></body></html>
